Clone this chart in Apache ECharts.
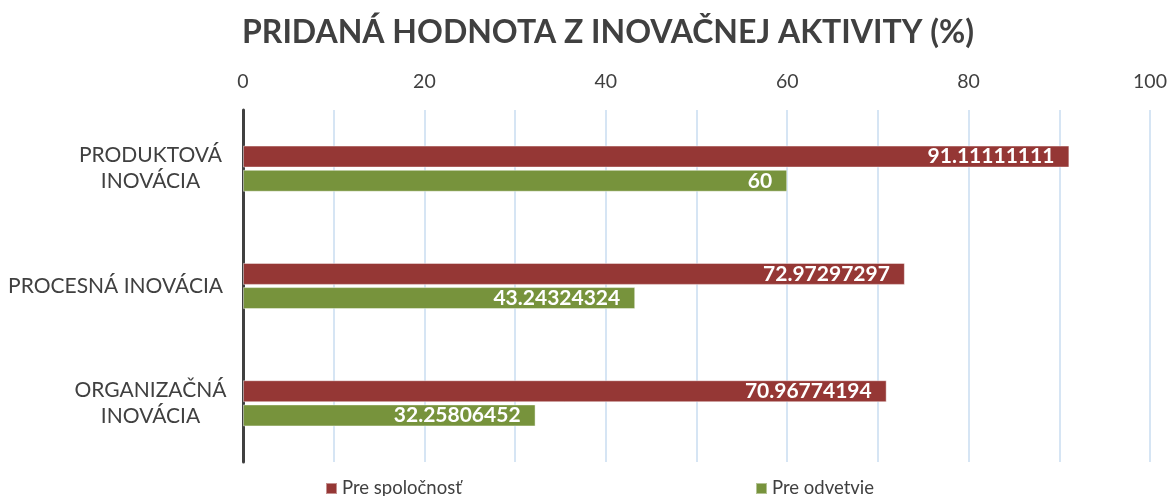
<!DOCTYPE html>
<html>
<head>
<meta charset="utf-8">
<script src="https://cdn.jsdelivr.net/npm/echarts@6/dist/echarts.min.js"></script>
<style>
  html, body { margin: 0; padding: 0; background: #ffffff; }
  #chart { width: 1171px; height: 496px; }
</style>
</head>
<body>
<div id="chart"></div>
<script>
// Innovation categories, top to bottom
const categories = ['PRODUKTOVÁ\nINOVÁCIA', 'PROCESNÁ INOVÁCIA', 'ORGANIZAČNÁ\nINOVÁCIA'];
// Value added share (%) per category
const preSpolocnost = [91.11111111, 72.97297297, 70.96774194];
const preOdvetvie = [60, 43.24324324, 32.25806452];
const seriesNames = ['Pre spoločnosť', 'Pre odvetvie'];
const tickLabels = [0, 20, 40, 60, 80, 100];

const FONT = 'Lato, "Open Sans", sans-serif';
const TEXT = '#404040';

const chart = echarts.init(document.getElementById('chart'), null, { renderer: 'canvas' });

function categoryLabel(value) {
  if (value.indexOf('\n') >= 0) {
    return value.split('\n').map(function (line) { return '{c|' + line + '}'; }).join('\n');
  }
  return value;
}

const labelStyle = {
  show: true,
  position: 'insideRight',
  distance: 15,
  color: '#ffffff',
  fontFamily: FONT,
  fontWeight: 'bold',
  fontSize: 21
};

chart.setOption({
  backgroundColor: '#ffffff',
  animation: false,
  title: {
    text: 'PRIDANÁ HODNOTA Z INOVAČNEJ AKTIVITY (%)',
    left: 603,
    textAlign: 'center',
    top: 12,
    textStyle: { color: TEXT, fontFamily: FONT, fontWeight: 'bold', fontSize: 32 }
  },
  legend: [
    {
      data: [seriesNames[0]], left: 320, top: 474, icon: 'rect', itemWidth: 11, itemHeight: 11, itemGap: 6,
      textStyle: { color: TEXT, fontFamily: FONT, fontSize: 18.5 }
    },
    {
      data: [seriesNames[1]], left: 750, top: 474, icon: 'rect', itemWidth: 11, itemHeight: 11, itemGap: 6,
      textStyle: { color: TEXT, fontFamily: FONT, fontSize: 18.5 }
    }
  ],
  grid: { left: 243, right: 21, top: 110, bottom: 34, containLabel: false },
  xAxis: {
    type: 'value',
    position: 'top',
    min: 0,
    max: 100,
    interval: 10,
    axisLine: { show: false },
    axisTick: { show: false },
    axisLabel: {
      color: TEXT, fontFamily: FONT, fontSize: 19.5, margin: 18,
      formatter: function (v) { return tickLabels.indexOf(v) >= 0 ? String(v) : ''; }
    },
    splitLine: { show: true, lineStyle: { color: '#c9ddf1', width: 1.5 } }
  },
  yAxis: {
    type: 'category',
    data: categories,
    inverse: true,
    axisLine: { show: true, lineStyle: { color: '#404040', width: 3 } },
    axisTick: { show: false },
    axisLabel: {
      color: TEXT, fontFamily: FONT, fontSize: 21, margin: 20, lineHeight: 26,
      formatter: categoryLabel,
      rich: { c: { width: 145, align: 'center', color: TEXT, fontFamily: FONT, fontSize: 21, lineHeight: 26 } }
    }
  },
  series: [
    {
      name: seriesNames[0],
      type: 'bar',
      data: preSpolocnost,
      barWidth: 22,
      barGap: '10%',
      itemStyle: { color: '#953735', borderColor: 'rgba(255,255,255,0.45)', borderWidth: 1 },
      label: labelStyle
    },
    {
      name: seriesNames[1],
      type: 'bar',
      data: preOdvetvie,
      barWidth: 22,
      barGap: '10%',
      itemStyle: { color: '#77933c', borderColor: 'rgba(255,255,255,0.45)', borderWidth: 1 },
      label: labelStyle
    }
  ]
});
</script>
</body>
</html>
